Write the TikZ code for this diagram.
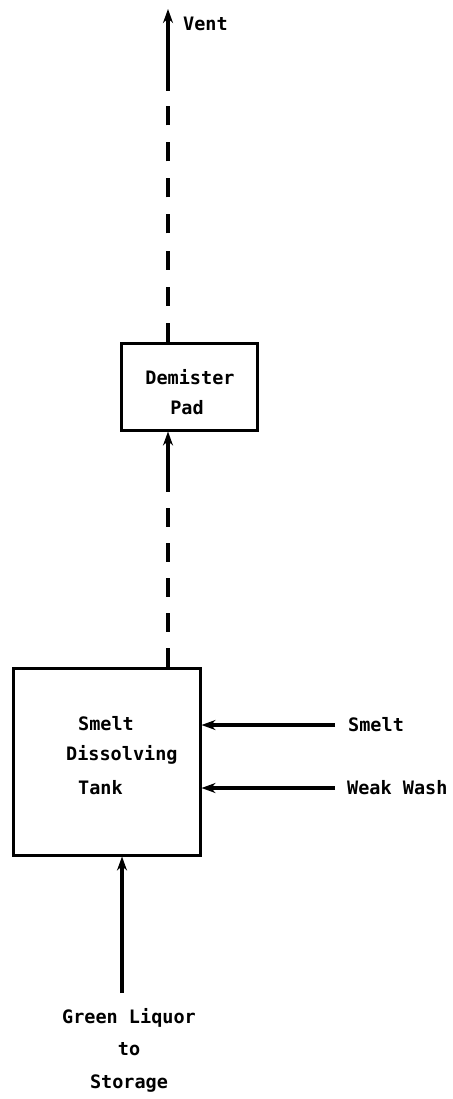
\documentclass[tikz,border=0pt]{standalone}
\usepackage{fontspec}
\newfontfamily\diagmono{DejaVu Sans Mono}
\usetikzlibrary{arrows.meta}
\begin{document}
\begin{tikzpicture}[x=1pt,y=-1pt,
  lbl/.style={font=\diagmono\bfseries\fontsize{18.5}{32.5}\selectfont, inner sep=0pt},
  boxnode/.style={draw, line width=3pt, inner sep=0pt},
  flow/.style={line width=3.2pt, -{Stealth[length=14pt,width=10pt]}},
  dashline/.style={line width=3.2pt, dash pattern=on 19pt off 17pt},
]
\useasboundingbox (0,0) rectangle (452,1099);
% boxes
\node[boxnode, minimum width=136pt, minimum height=87pt] (demister) at (189,386.5) {};
\node[boxnode, minimum width=187pt, minimum height=187pt] (tank) at (106.5,761.5) {};
% box texts
\node[lbl] (demtext1) at (190,377) {Demister};
\node[lbl] (demtext2) at (187,408) {Pad};
\node[lbl, anchor=west] (tanktext1) at (78,724) {Smelt};
\node[lbl, anchor=west] (tanktext2) at (66,755) {Dissolving};
\node[lbl, anchor=west] (tanktext3) at (78,788) {Tank};
% outside labels
\node[lbl, anchor=west] (vent) at (183,24) {Vent};
\node[lbl, anchor=west] (smeltin) at (348,725) {Smelt};
\node[lbl, anchor=west] (washin) at (347,788) {Weak Wash};
\node[lbl, align=center, anchor=north] (green) at (129,1008) {Green Liquor\\to\\Storage};
% coordinates
\coordinate (venttip) at (168,9);
\coordinate (ventsolid) at (168,91);
\coordinate (lowsolid) at (168,490);
\coordinate (smeltsrc) at (335,725);
\coordinate (washsrc) at (335,788);
\coordinate (greensrc) at (122,993);
% vent line
\draw[dashline] (venttip |- demister.north) -- (ventsolid);
\draw[flow] (ventsolid) -- (venttip);
% tank to demister
\draw[dashline, dash pattern=on 19pt off 16pt] (lowsolid |- tank.north) -- (lowsolid);
\draw[flow] (lowsolid) -- (lowsolid |- demister.south);
% feeds
\draw[flow] (smeltsrc) -- (smeltsrc -| tank.east);
\draw[flow] (washsrc) -- (washsrc -| tank.east);
\draw[flow] (greensrc) -- (greensrc |- tank.south);
\end{tikzpicture}
\end{document}
